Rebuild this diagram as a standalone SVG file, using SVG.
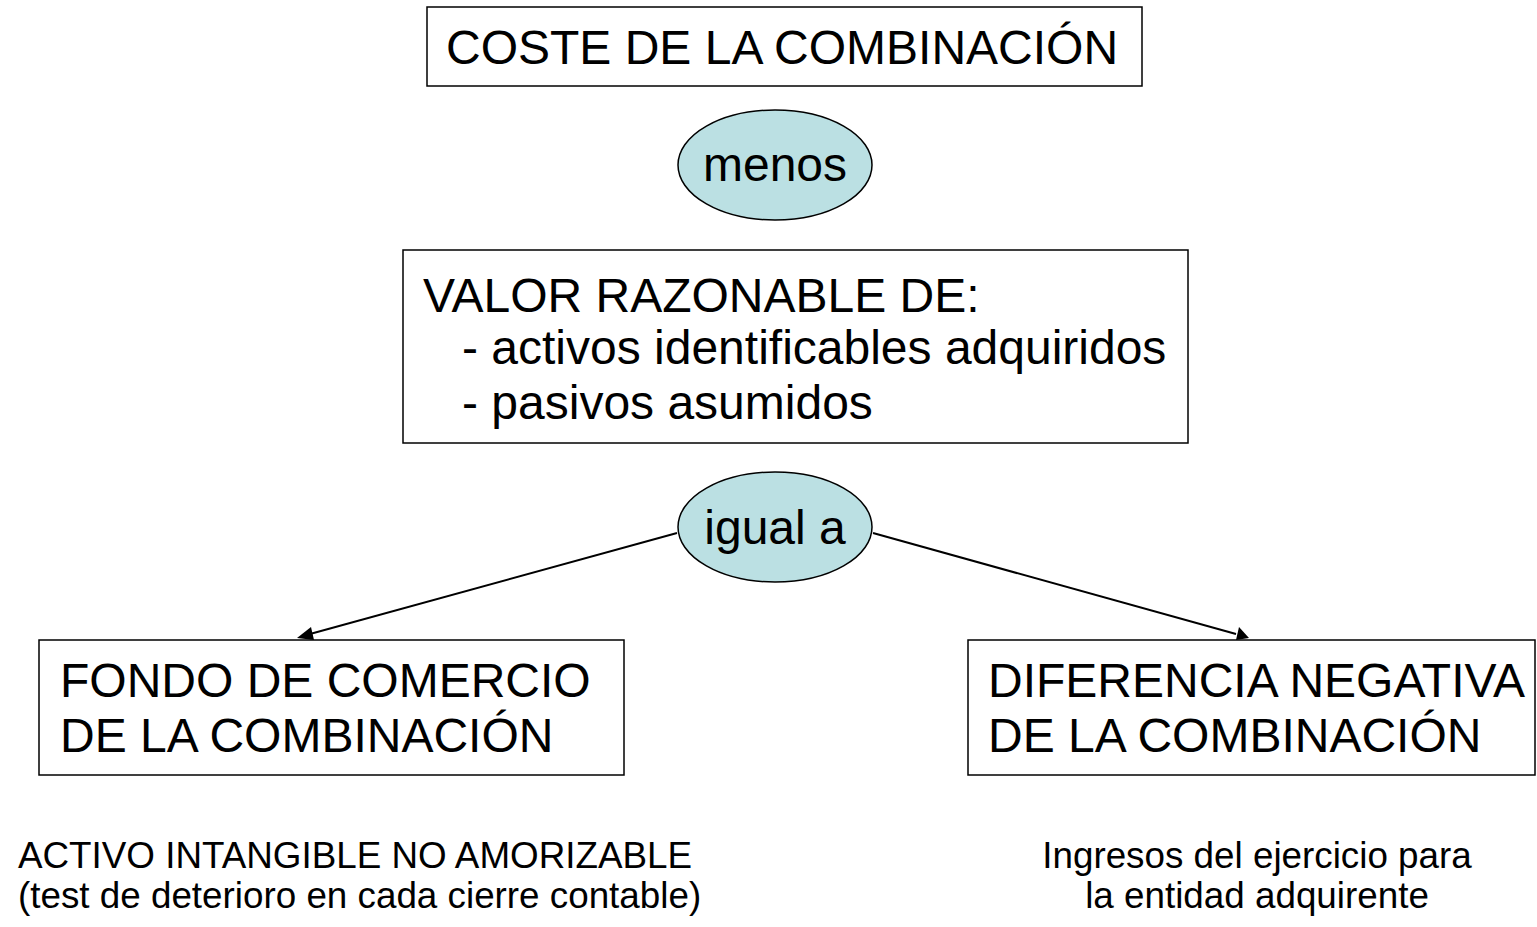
<svg xmlns="http://www.w3.org/2000/svg" width="1537" height="927" viewBox="0 0 1537 927">
<defs>
<style>
.box{fill:#fff;stroke:#000;stroke-width:1.5}
.ell{fill:#bbe0e3;stroke:#000;stroke-width:1.5}
.t{font-family:"Liberation Sans",Arial,sans-serif;font-size:48px;fill:#000}
.s{font-family:"Liberation Sans",Arial,sans-serif;font-size:36.8px;fill:#000}
.c{stroke:#000;stroke-width:2;fill:none}
</style>
</defs>
<rect width="1537" height="927" fill="#fff"/>
<g id="coste">
<rect class="box" x="427" y="7" width="715" height="79"/>
<text class="t" x="446" y="64">COSTE DE LA COMBINACIÓN</text>
</g>
<g id="menos">
<ellipse class="ell" cx="775" cy="165" rx="97" ry="55"/>
<text class="t" x="775" y="181" text-anchor="middle">menos</text>
</g>
<g id="valor">
<rect class="box" x="403" y="250" width="785" height="193"/>
<text class="t" x="423" y="312">VALOR RAZONABLE DE:</text>
<text class="t" x="462" y="364">- activos identificables adquiridos</text>
<text class="t" x="462" y="419">- pasivos asumidos</text>
</g>
<g id="igual">
<ellipse class="ell" cx="775" cy="527" rx="97" ry="55"/>
<text class="t" x="775" y="544" text-anchor="middle">igual a</text>
</g>
<g id="fondo">
<rect class="box" x="39" y="640" width="585" height="135"/>
<text class="t" x="60" y="697">FONDO DE COMERCIO</text>
<text class="t" x="60" y="752">DE LA COMBINACIÓN</text>
</g>
<g id="diferencia">
<rect class="box" x="968" y="640" width="567" height="135"/>
<text class="t" x="988" y="697">DIFERENCIA NEGATIVA</text>
<text class="t" x="988" y="752">DE LA COMBINACIÓN</text>
</g>
<g id="nota-activo">
<text class="s" x="18" y="868">ACTIVO INTANGIBLE NO AMORIZABLE</text>
<text class="s" x="18" y="908">(test de deterioro en cada cierre contable)</text>
</g>
<g id="nota-ingresos">
<text class="s" x="1257" y="868" text-anchor="middle">Ingresos del ejercicio para</text>
<text class="s" x="1257" y="908" text-anchor="middle">la entidad adquirente</text>
</g>
<g id="connectors">
<line class="c" x1="677" y1="533" x2="310" y2="634"/>
<path d="M297,638 L311,627 L314,640 z" fill="#000"/>
<line class="c" x1="873" y1="533" x2="1236" y2="634"/>
<path d="M1249,638 L1236,640 L1239,627 z" fill="#000"/>
</g>
</svg>
